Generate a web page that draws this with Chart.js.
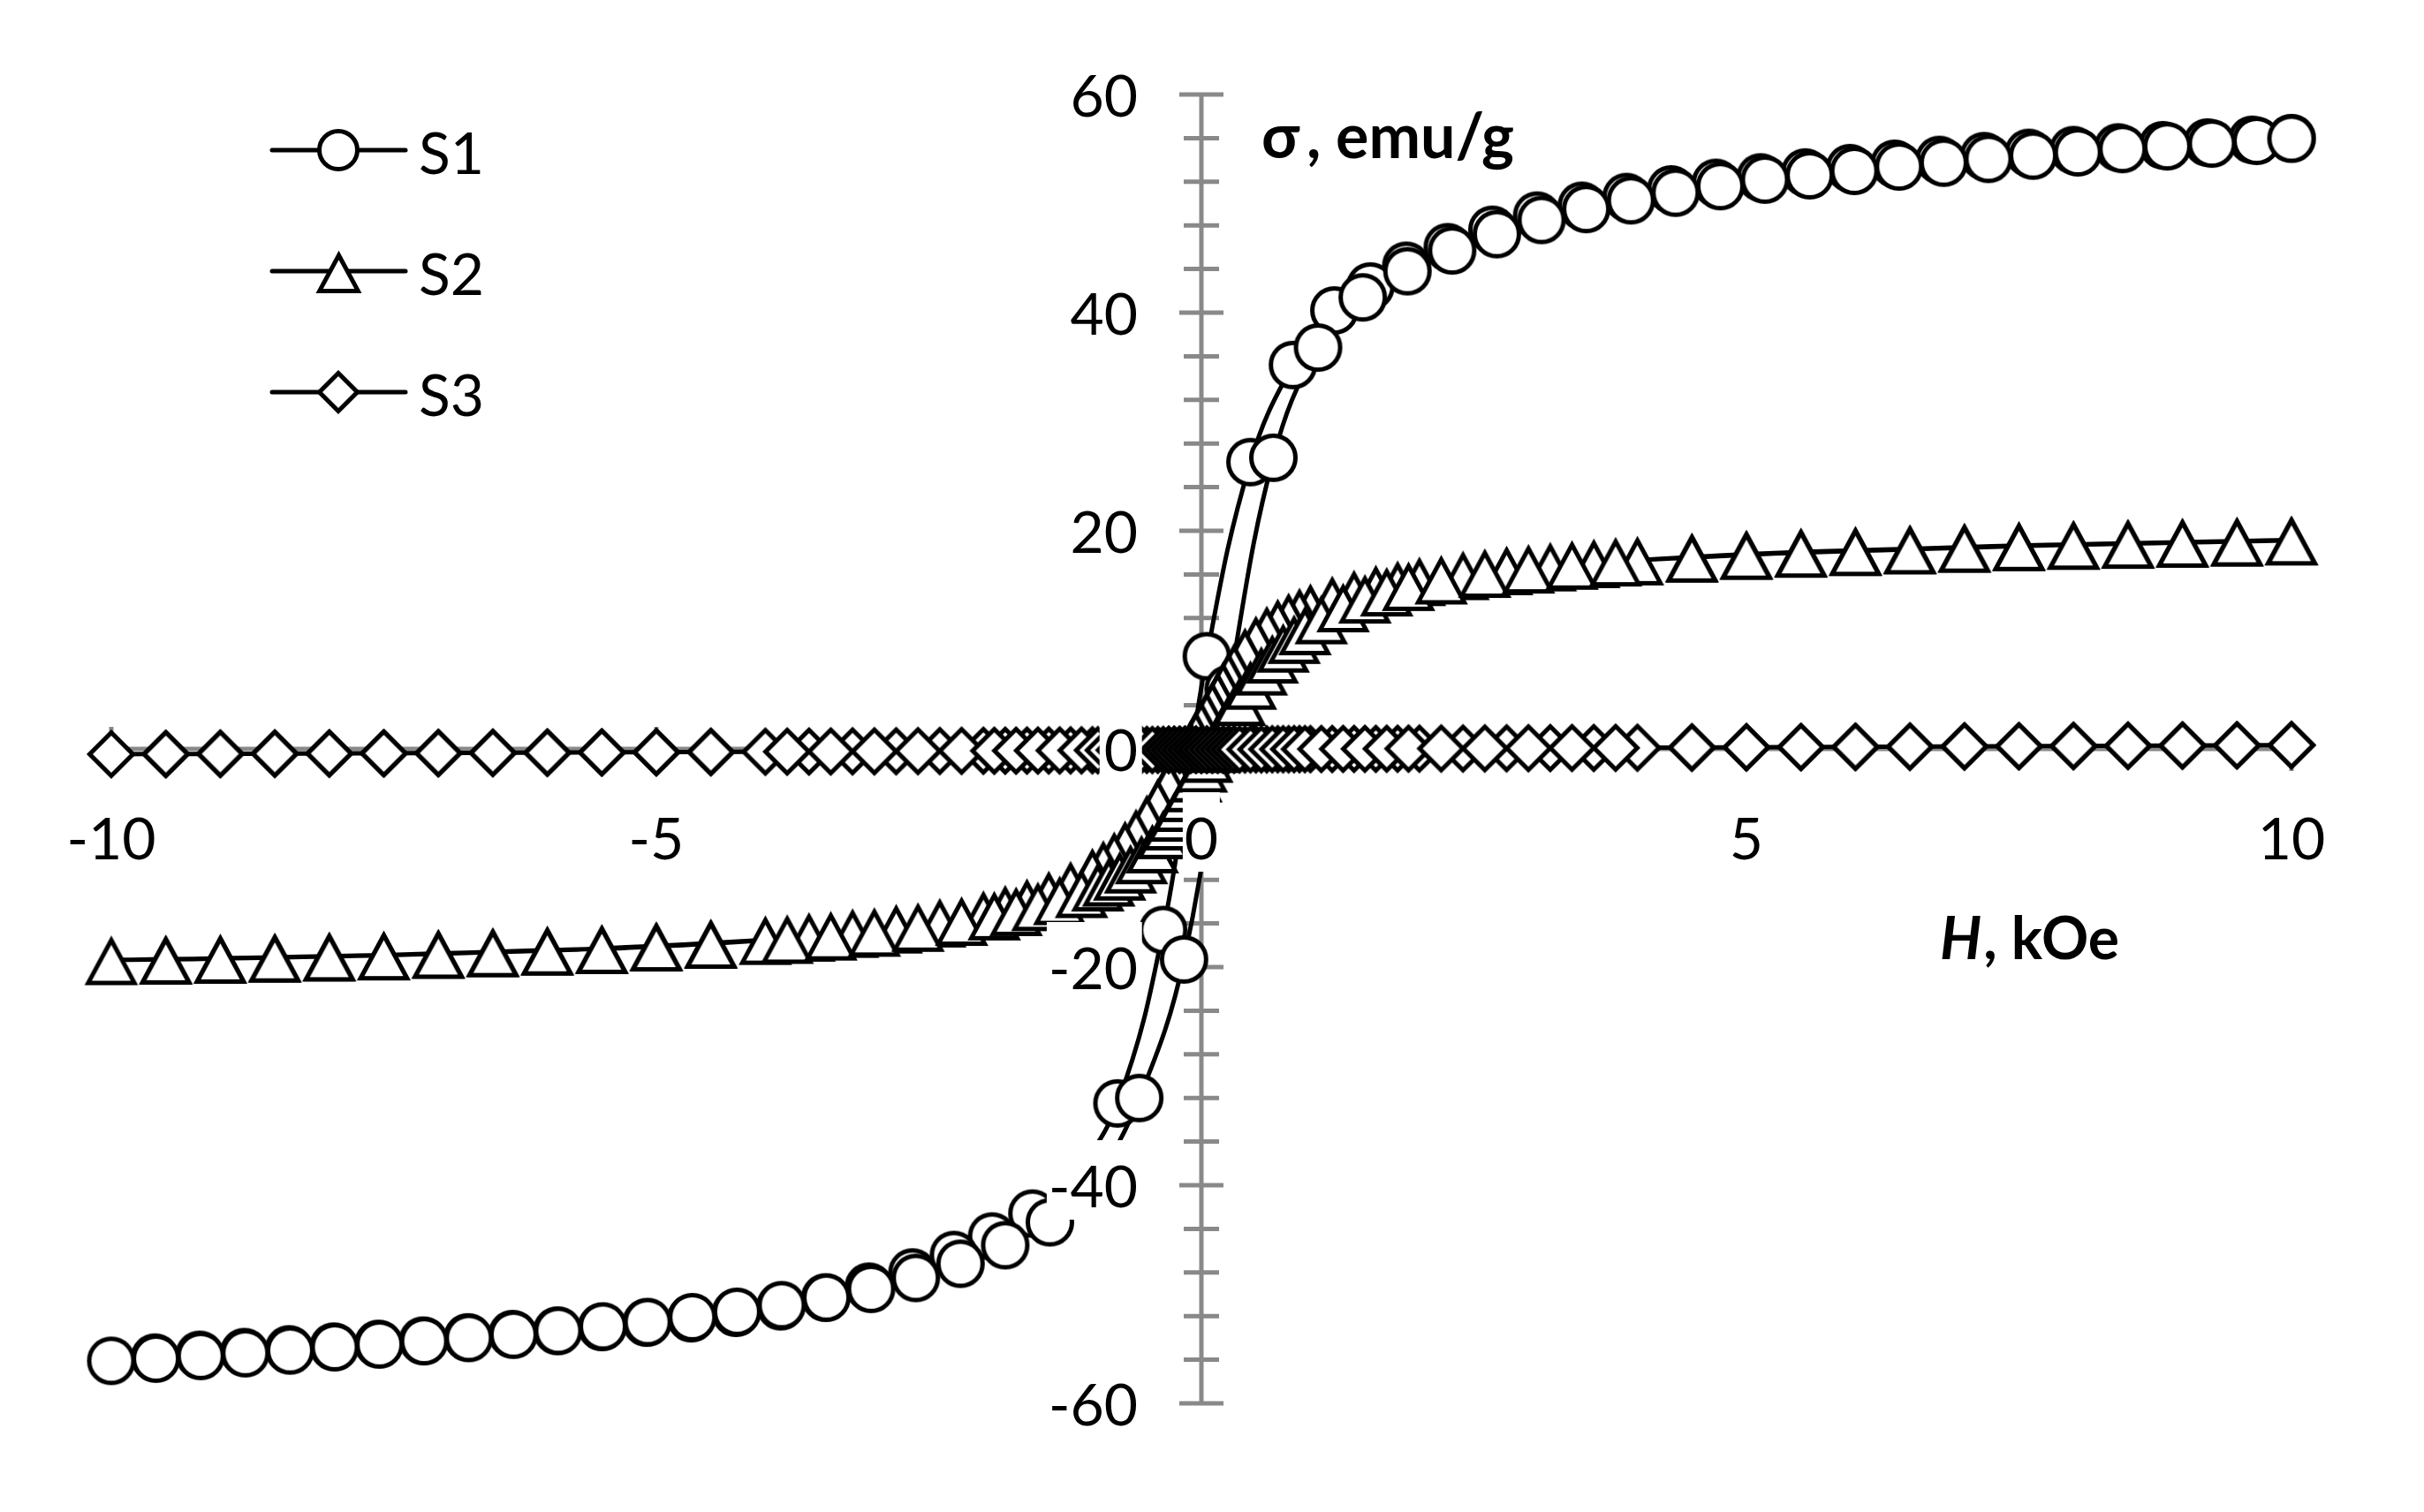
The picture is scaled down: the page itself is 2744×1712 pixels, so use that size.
<!DOCTYPE html>
<html>
<head>
<meta charset="utf-8">
<script src="https://cdn.jsdelivr.net/npm/chart.js@4.4.1/dist/chart.umd.min.js"></script>
<style>
  html, body { margin: 0; padding: 0; background: #ffffff; }
  canvas { display: block; }
</style>
</head>
<body>
<canvas id="chart" width="2744" height="1712" style="width:2744px;height:1712px"></canvas>
<script>
// ---------------- data ----------------
const seriesNames = ['S1', 'S2', 'S3'];
const xTickLabels = ['-10', '-5', '0', '5', '10'];
const yTickLabels = ['-60', '-40', '-20', '0', '20', '40', '60'];
const xAxisTitleItalic = 'H';
const xAxisTitle = ', kOe';
const yAxisTitleParts = ['σ', ',', 'emu/g'];

// S1: descending branch (from +10 kOe) and ascending branch (from -10 kOe)
const s1DownH = [10.00, 9.64, 9.23, 8.82, 8.41, 8.00, 7.59, 7.18, 6.77, 6.36,
  5.95, 5.54, 5.13, 4.72, 4.31, 3.90, 3.49, 3.08, 2.67, 2.26,
  1.88, 1.55, 1.22, 0.84, 0.45, 0.05, -0.35, -0.77, -1.18, -1.55,
  -1.92, -2.27, -2.65, -3.05, -3.45, -3.86, -4.27, -4.68, -5.09, -5.50,
  -5.91, -6.32, -6.73, -7.14, -7.55, -7.96, -8.37, -8.78, -9.19, -9.60, -10.00];
const s1DownSigma = [56.0, 55.85, 55.6, 55.35, 55.15, 54.9, 54.65, 54.35, 54.0, 53.65,
  53.25, 52.85, 52.4, 51.9, 51.3, 50.6, 49.8, 48.9, 47.6, 46.0,
  44.3, 42.4, 40.2, 35.2, 26.3, 8.5, -16.6, -32.5, -39.2, -42.6,
  -44.7, -46.4, -48.0, -49.3, -50.3, -51.1, -51.7, -52.2, -52.6, -53.0,
  -53.35, -53.65, -53.95, -54.25, -54.55, -54.8, -55.05, -55.3, -55.55, -55.8, -56.1];
const s1UpH = [-9.59, -9.18, -8.77, -8.36, -7.95, -7.54, -7.13, -6.72, -6.31, -5.90,
  -5.49, -5.08, -4.67, -4.26, -3.85, -3.44, -3.03, -2.62, -2.21, -1.80,
  -1.39, -0.98, -0.57, -0.16, 0.25, 0.66, 1.07, 1.48, 1.89, 2.30,
  2.71, 3.12, 3.53, 3.94, 4.35, 4.76, 5.17, 5.58, 5.99, 6.40,
  6.81, 7.22, 7.63, 8.04, 8.45, 8.86, 9.27, 9.68, 10.00];
const s1UpSigma = [-55.9, -55.65, -55.4, -55.15, -54.85, -54.6, -54.3, -54.0, -53.7, -53.35,
  -52.95, -52.55, -52.1, -51.6, -51.0, -50.3, -49.5, -48.5, -47.2, -45.5,
  -43.4, -39.5, -32.0, -19.3, 5.5, 26.7, 36.8, 41.4, 43.8, 45.7,
  47.2, 48.5, 49.5, 50.3, 51.0, 51.6, 52.2, 52.6, 53.0, 53.4,
  53.75, 54.1, 54.4, 54.7, 55.0, 55.25, 55.5, 55.75, 55.95];

// S2 and S3 were measured on the same field schedule
const h23Down = [10, 9.5, 9, 8.5, 8, 7.5, 7, 6.5, 6, 5.5, 5, 4.5,
  4.0, 3.6, 3.2, 2.8, 2.4,
  2.0, 1.8, 1.6, 1.4, 1.2,
  1.0, 0.9, 0.8, 0.7, 0.6, 0.5, 0.4,
  0.3, 0.25, 0.2, 0.15, 0.1, 0.05, 0, -0.05, -0.1, -0.15, -0.2, -0.25, -0.3,
  -0.4, -0.5, -0.6, -0.7, -0.8, -0.9, -1.0,
  -1.2, -1.4, -1.6, -1.8, -2.0,
  -2.4, -2.8, -3.2, -3.6, -4.0,
  -4.5, -5, -5.5, -6, -6.5, -7, -7.5, -8, -8.5, -9, -9.5, -10];
const h23Up = [-9.5, -9, -8.5, -8, -7.5, -7, -6.5, -6, -5.5, -5, -4.5,
  -3.8, -3.4, -3.0, -2.6, -2.2,
  -1.9, -1.7, -1.5, -1.3, -1.1,
  -0.95, -0.85, -0.75, -0.65, -0.55, -0.45, -0.35,
  -0.3, -0.25, -0.2, -0.15, -0.1, -0.05, 0, 0.05, 0.1, 0.15, 0.2, 0.25, 0.3,
  0.35, 0.45, 0.55, 0.65, 0.75, 0.85, 0.95,
  1.1, 1.3, 1.5, 1.7, 1.9,
  2.2, 2.6, 3.0, 3.4, 3.8,
  4.5, 5, 5.5, 6, 6.5, 7, 7.5, 8, 8.5, 9, 9.5, 10];

const s2DownSigma = [19.15, 19.05, 18.95, 18.85, 18.75, 18.65, 18.5, 18.35, 18.2, 18.05, 17.85, 17.6,
  17.3, 17.05, 16.75, 16.4, 15.95,
  15.4, 15.05, 14.65, 14.2, 13.65,
  12.95, 12.55, 12.1, 11.55, 10.9, 10.0, 8.9,
  7.5, 6.7, 5.8, 4.9, 4.0, 3.1, 2.2, 1.3, 0.4, -0.5, -1.4, -2.3, -3.2,
  -4.9, -6.4, -7.7, -8.8, -9.8, -10.6, -11.3,
  -12.5, -13.4, -14.1, -14.7, -15.2,
  -15.9, -16.45, -16.85, -17.2, -17.5,
  -17.8, -18.05, -18.3, -18.45, -18.6, -18.75, -18.9, -19.0, -19.1, -19.2, -19.28, -19.35];
const s2UpSigma = [-19.3, -19.22, -19.12, -19.02, -18.92, -18.78, -18.63, -18.48, -18.33, -18.1, -17.85,
  -17.4, -17.1, -16.75, -16.3, -15.75,
  -15.25, -14.85, -14.4, -13.85, -13.2,
  -12.6, -12.15, -11.6, -10.95, -10.1, -9.1, -7.8,
  -7.0, -6.2, -5.3, -4.4, -3.5, -2.6, -1.7, -0.8, 0.1, 1.0, 1.9, 2.8, 3.6,
  4.4, 5.9, 7.2, 8.3, 9.3, 10.1, 10.9,
  11.9, 13.0, 13.8, 14.45, 14.95,
  15.55, 16.15, 16.55, 16.9, 17.2,
  17.55, 17.8, 18.0, 18.15, 18.3, 18.45, 18.6, 18.72, 18.82, 18.92, 19.02, 19.12];

const s3DownSigma = [0.35, 0.33, 0.31, 0.29, 0.27, 0.25, 0.23, 0.21, 0.19, 0.17, 0.15, 0.13,
  0.11, 0.09, 0.08, 0.06, 0.04,
  0.03, 0.02, 0.01, 0.0, -0.01,
  -0.02, -0.02, -0.03, -0.03, -0.04, -0.04, -0.05,
  -0.05, -0.05, -0.06, -0.06, -0.06, -0.06, -0.07, -0.07, -0.07, -0.07, -0.08, -0.08, -0.08,
  -0.09, -0.09, -0.1, -0.1, -0.11, -0.11, -0.12,
  -0.13, -0.14, -0.15, -0.16, -0.17,
  -0.19, -0.21, -0.22, -0.24, -0.26,
  -0.28, -0.3, -0.32, -0.34, -0.36, -0.38, -0.4, -0.42, -0.43, -0.45, -0.47, -0.48];
const s3UpSigma = [-0.47, -0.45, -0.44, -0.42, -0.4, -0.38, -0.36, -0.34, -0.32, -0.3, -0.28,
  -0.25, -0.23, -0.22, -0.2, -0.18,
  -0.17, -0.16, -0.15, -0.14, -0.13,
  -0.12, -0.12, -0.11, -0.11, -0.1, -0.1, -0.09,
  -0.09, -0.09, -0.08, -0.08, -0.08, -0.07, -0.07, -0.07, -0.06, -0.06, -0.06, -0.05, -0.05,
  -0.05, -0.04, -0.04, -0.03, -0.03, -0.02, -0.02,
  -0.01, 0.0, 0.01, 0.02, 0.03,
  0.04, 0.05, 0.07, 0.09, 0.1,
  0.13, 0.15, 0.17, 0.19, 0.21, 0.23, 0.25, 0.27, 0.29, 0.31, 0.33, 0.35];

// ---------------- styling ----------------
const FONT = '"Lato", "Open Sans", "Noto Sans", sans-serif';
const AXIS_COLOR = '#898989';

function makeMarker(kind, outer) {
  const S = Math.ceil(outer) + 18;
  const c = document.createElement('canvas');
  c.width = S; c.height = S;
  const g = c.getContext('2d');
  const m = S / 2, lw = 5;
  g.lineWidth = lw; g.strokeStyle = '#000'; g.fillStyle = '#fff';
  g.lineJoin = 'miter'; g.miterLimit = 10;
  g.beginPath();
  if (kind === 'circle') {
    g.arc(m, m, (outer - lw) / 2, 0, Math.PI * 2);
  } else if (kind === 'diamond') {
    const d = outer / 2 - 3.5;
    g.moveTo(m, m - d); g.lineTo(m + d, m); g.lineTo(m, m + d); g.lineTo(m - d, m); g.closePath();
  } else {
    const H = outer - 8.6, hw = H * 0.54, top = m - outer / 2 + 6;
    g.moveTo(m, top); g.lineTo(m + hw, top + H); g.lineTo(m - hw, top + H); g.closePath();
  }
  g.fill(); g.stroke();
  return c;
}
const markerKinds = ['circle', 'triangle', 'diamond'];
const dataMarkers = [makeMarker('circle', 55), makeMarker('triangle', 57), makeMarker('diamond', 56)];
const legendMarkers = [makeMarker('circle', 48), makeMarker('triangle', 49), makeMarker('diamond', 50)];

function pts(hs, ss) { return hs.map((h, i) => ({ x: h, y: ss[i] })); }
const seriesData = [
  pts(s1DownH, s1DownSigma).concat(pts(s1UpH, s1UpSigma)),
  pts(h23Down, s2DownSigma).concat(pts(h23Up, s2UpSigma)),
  pts(h23Down, s3DownSigma).concat(pts(h23Up, s3UpSigma))
];

const crossAxes = {
  id: 'crossAxes',
  beforeDatasetsDraw(chart) {
    const { ctx, scales: { x, y } } = chart;
    const x0 = x.getPixelForValue(0), y0 = y.getPixelForValue(0);
    ctx.save();
    ctx.strokeStyle = AXIS_COLOR;
    ctx.lineWidth = 5;
    ctx.lineCap = 'butt';
    const seg = (ax, ay, bx, by) => { ctx.beginPath(); ctx.moveTo(ax, ay); ctx.lineTo(bx, by); ctx.stroke(); };
    // horizontal axis
    seg(x.getPixelForValue(x.min), y0, x.getPixelForValue(x.max), y0);
    x.ticks.forEach(t => { const px = x.getPixelForValue(t.value); seg(px, y0 - 25, px, y0 + 25); });
    // vertical axis
    seg(x0, y.getPixelForValue(y.max), x0, y.getPixelForValue(y.min));
    const yt = y.ticks.map(t => t.value);
    yt.forEach(v => { const py = y.getPixelForValue(v); seg(x0 - 25, py, x0 + 25, py); });
    for (let i = 0; i < yt.length - 1; i++) {
      for (let k = 1; k < 5; k++) {
        const py = y.getPixelForValue(yt[i] + (yt[i + 1] - yt[i]) * k / 5);
        seg(x0 - 20, py, x0 + 20, py);
      }
    }
    ctx.restore();
  },
  afterDatasetsDraw(chart) {
    const { ctx, scales: { x, y } } = chart;
    const x0 = x.getPixelForValue(0), y0 = y.getPixelForValue(0);
    ctx.save();
    ctx.font = '66px ' + FONT;
    ctx.textBaseline = 'alphabetic';
    // y tick labels
    ctx.textAlign = 'right';
    y.ticks.forEach(t => {
      const py = y.getPixelForValue(t.value);
      const right = x0 - 72, base = py + 25;
      const m = ctx.measureText(t.label);
      ctx.fillStyle = '#fff';
      ctx.fillRect(right - m.actualBoundingBoxLeft - 6, base - 76, m.actualBoundingBoxLeft + m.actualBoundingBoxRight + 12, 90);
      ctx.fillStyle = '#000';
      ctx.fillText(t.label, right, base);
    });
    // x tick labels
    ctx.textAlign = 'center';
    x.ticks.forEach(t => {
      const px = x.getPixelForValue(t.value);
      const base = y0 + 125;
      const m = ctx.measureText(t.label);
      ctx.fillStyle = '#fff';
      ctx.fillRect(px - m.actualBoundingBoxLeft - 3, base - 76, m.actualBoundingBoxLeft + m.actualBoundingBoxRight + 6, 90);
      ctx.fillStyle = '#000';
      ctx.fillText(t.label, px, base);
    });
    // axis titles
    ctx.textAlign = 'left';
    ctx.fillStyle = '#000';
    ctx.font = 'bold 70px ' + FONT;
    ctx.fillText(yAxisTitleParts[0], 1428, 179);
    ctx.fillText(yAxisTitleParts[1], 1479, 179);
    ctx.fillText(yAxisTitleParts[2], 1512, 179);
    ctx.font = 'italic bold 66px ' + FONT;
    ctx.fillText(xAxisTitleItalic, 2196, 1086);
    const wH = ctx.measureText(xAxisTitleItalic).width;
    ctx.font = 'bold 66px ' + FONT;
    ctx.fillText(xAxisTitle, 2196 + wH + 2, 1086);
    // legend
    const legendY = [170, 307, 444];
    seriesNames.forEach((name, i) => {
      const ly = legendY[i];
      ctx.strokeStyle = '#000'; ctx.lineWidth = 5; ctx.lineCap = 'round';
      ctx.beginPath(); ctx.moveTo(308, ly); ctx.lineTo(459, ly); ctx.stroke();
      const mk = legendMarkers[i];
      ctx.drawImage(mk, Math.round(383 - mk.width / 2), Math.round(ly - mk.height / 2));
      ctx.font = '66px ' + FONT;
      ctx.fillStyle = '#000';
      ctx.fillText(name, 474, ly + 27);
    });
    ctx.restore();
  }
};

new Chart(document.getElementById('chart').getContext('2d'), {
  type: 'scatter',
  data: {
    datasets: seriesData.map((d, i) => ({
      label: seriesNames[i],
      data: d,
      showLine: true,
      borderColor: '#000',
      borderWidth: 5,
      tension: 0.4,
      pointStyle: dataMarkers[i],
      pointRadius: 27,
      pointHoverRadius: 27,
      clip: false,
      order: 3 - i
    }))
  },
  options: {
    responsive: false,
    devicePixelRatio: 1,
    animation: false,
    events: [],
    layout: { padding: { left: 126, right: 150, top: 107, bottom: 123 } },
    plugins: { legend: { display: false }, tooltip: { enabled: false } },
    scales: {
      x: {
        type: 'linear', min: -10, max: 10, display: false,
        position: { y: 0 },
        ticks: { stepSize: 5, callback: (v, i) => xTickLabels[i] }
      },
      y: {
        type: 'linear', min: -60, max: 60, display: false,
        position: { x: 0 },
        ticks: { stepSize: 20, callback: (v, i) => yTickLabels[i] }
      }
    }
  },
  plugins: [crossAxes]
});
</script>
</body>
</html>
